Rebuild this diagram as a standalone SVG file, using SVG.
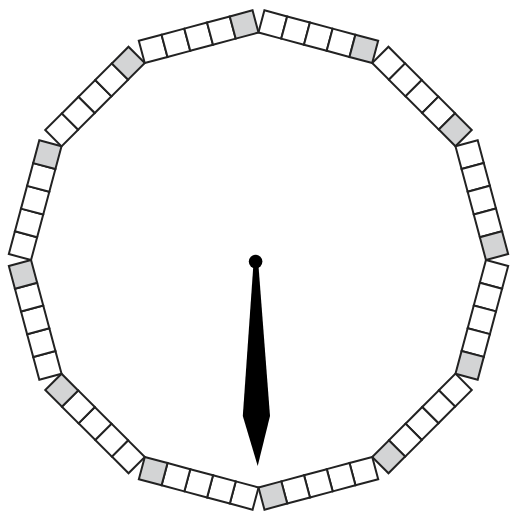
<svg xmlns="http://www.w3.org/2000/svg" xmlns:xlink="http://www.w3.org/1999/xlink" width="512" height="515" viewBox="0 0 512 515">
<style>
.b{fill:#fff;stroke:#222;stroke-width:2;stroke-linejoin:miter}
.g{fill:#d3d4d5;stroke:#222;stroke-width:2}
</style>
<defs>
<g id="side">
<rect class="b" x="199.6" y="17.3" width="23.55" height="23"/>
<rect class="b" x="223.15" y="17.3" width="23.55" height="23"/>
<rect class="b" x="246.7" y="17.3" width="23.55" height="23"/>
<rect class="b" x="270.25" y="17.3" width="23.55" height="23"/>
<rect class="g" x="293.8" y="17.3" width="23.55" height="23"/>
</g>
</defs>
<rect width="512" height="515" fill="#fff"/>
<g id="side0"><use xlink:href="#side" transform="rotate(15 258.5 260)"/></g>
<g id="side1"><use xlink:href="#side" transform="rotate(45 258.5 260)"/></g>
<g id="side2"><use xlink:href="#side" transform="rotate(75 258.5 260)"/></g>
<g id="side3"><use xlink:href="#side" transform="rotate(105 258.5 260)"/></g>
<g id="side4"><use xlink:href="#side" transform="rotate(135 258.5 260)"/></g>
<g id="side5"><use xlink:href="#side" transform="rotate(165 258.5 260)"/></g>
<g id="side6"><use xlink:href="#side" transform="rotate(195 258.5 260)"/></g>
<g id="side7"><use xlink:href="#side" transform="rotate(225 258.5 260)"/></g>
<g id="side8"><use xlink:href="#side" transform="rotate(255 258.5 260)"/></g>
<g id="side9"><use xlink:href="#side" transform="rotate(285 258.5 260)"/></g>
<g id="side10"><use xlink:href="#side" transform="rotate(315 258.5 260)"/></g>
<g id="side11"><use xlink:href="#side" transform="rotate(345 258.5 260)"/></g>
<g id="needle">
<polygon points="253.3,266 258.5,266 270,416 257.7,466 242.8,416" fill="#000"/>
<circle cx="255.6" cy="261.6" r="6.8" fill="#000"/>
</g>
</svg>
